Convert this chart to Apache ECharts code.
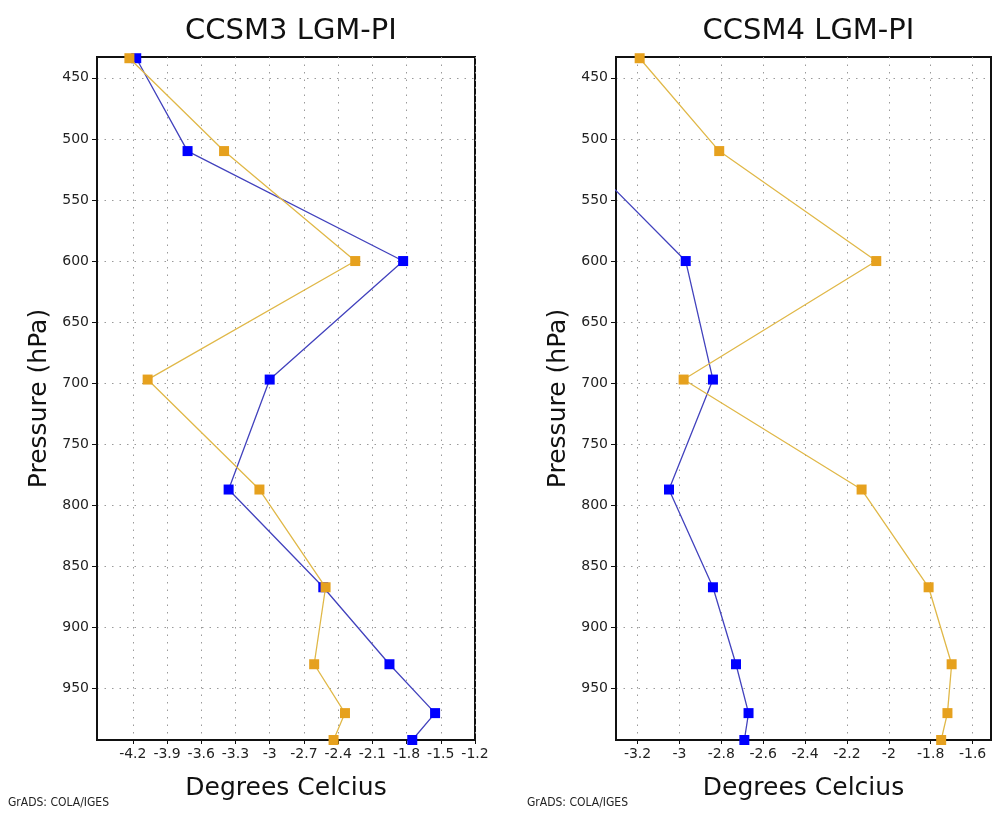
<!DOCTYPE html>
<html>
<head>
<meta charset="utf-8">
<script src="https://cdn.jsdelivr.net/npm/echarts@6/dist/echarts.min.js"></script>
<style>
  html, body { margin: 0; padding: 0; background: #fff; }
  #main { width: 996px; height: 824px; }
</style>
</head>
<body>
<div id="main"></div>
<script>
// pressure levels (hPa), top to bottom
var levels = [434, 510, 600, 697, 787, 867, 930, 970, 992];

// CCSM3 LGM-PI
var ccsm3Blue   = [-4.17, -3.72, -1.83, -3.00, -3.36, -2.53, -1.95, -1.55, -1.75];
var ccsm3Orange = [-4.23, -3.40, -2.25, -4.07, -3.09, -2.51, -2.61, -2.34, -2.44];

// CCSM4 LGM-PI (first two blue points fall off the left edge)
var ccsm4Blue   = [-3.62, -3.49, -2.97, -2.84, -3.05, -2.84, -2.73, -2.67, -2.69];
var ccsm4Orange = [-3.19, -2.81, -2.06, -2.98, -2.13, -1.81, -1.70, -1.72, -1.75];

// tick labels
var pressureTicks = [450, 500, 550, 600, 650, 700, 750, 800, 850, 900, 950];
var ccsm3Ticks = [-4.2, -3.9, -3.6, -3.3, -3, -2.7, -2.4, -2.1, -1.8, -1.5, -1.2];
var ccsm4Ticks = [-3.2, -3, -2.8, -2.6, -2.4, -2.2, -2, -1.8, -1.6];

var titles = ['CCSM3 LGM-PI', 'CCSM4 LGM-PI'];

function pairs(xs) {
    var out = [];
    for (var i = 0; i < xs.length; i++) {
        out.push([xs[i], levels[i]]);
    }
    return out;
}

var myChart = echarts.init(document.getElementById('main'));

var grids = [
    { left: 97, top: 57, width: 378, height: 683 },
    { left: 616, top: 57, width: 375, height: 683 }
];
var xRanges = [[-4.514, -1.2], [-3.303, -1.512]];
var xTicks = [ccsm3Ticks, ccsm4Ticks];

var dotted = { color: '#9a9a9a', width: 1, type: [1.5, 6] };
var labelFont = { fontFamily: 'DejaVu Sans', fontSize: 14, color: '#222' };
var nameFont = { fontFamily: 'DejaVu Sans', fontSize: 25, color: '#111' };

var option = {
    animation: false,
    backgroundColor: '#fff',
    title: [],
    grid: [],
    xAxis: [],
    yAxis: [],
    series: [],
    graphic: []
};

for (var g = 0; g < 2; g++) {
    option.title.push({
        text: titles[g],
        left: grids[g].left + grids[g].width / 2,
        textAlign: 'center',
        top: 12,
        textStyle: { fontFamily: 'DejaVu Sans', fontSize: 29, fontWeight: 'normal', color: '#111' }
    });
    option.grid.push({
        left: grids[g].left, top: grids[g].top, width: grids[g].width, height: grids[g].height,
        show: true, borderColor: '#111', borderWidth: 2, backgroundColor: '#fff'
    });
    option.xAxis.push({
        type: 'value',
        gridIndex: g,
        min: xRanges[g][0],
        max: xRanges[g][1],
        name: 'Degrees Celcius',
        nameLocation: 'middle',
        nameGap: 36,
        nameTextStyle: nameFont,
        axisLine: { show: true, onZero: false, lineStyle: { color: '#111', width: 2 } },
        axisTick: { show: true, length: 4, customValues: xTicks[g], lineStyle: { color: '#111' } },
        axisLabel: Object.assign({ margin: 7, customValues: xTicks[g] }, labelFont),
        splitLine: { show: true, customValues: xTicks[g], lineStyle: dotted }
    });
    option.yAxis.push({
        type: 'value',
        gridIndex: g,
        inverse: true,
        min: 433,
        max: 992,
        name: 'Pressure (hPa)',
        nameLocation: 'middle',
        nameGap: 45,
        nameTextStyle: nameFont,
        axisLine: { show: true, onZero: false, lineStyle: { color: '#111', width: 2 } },
        axisTick: { show: true, length: 5, customValues: pressureTicks, lineStyle: { color: '#111' } },
        axisLabel: Object.assign({ margin: 8, customValues: pressureTicks }, labelFont),
        splitLine: { show: true, customValues: pressureTicks, lineStyle: dotted }
    });
    option.graphic.push({
        type: 'text',
        left: g === 0 ? 8 : 527,
        top: 797,
        style: { text: 'GrADS: COLA/IGES', fontFamily: 'DejaVu Sans Condensed', fontSize: 12, fill: '#222' }
    });
}

function lineSeries(g, xs, lineColor, markColor, z) {
    return {
        type: 'line',
        xAxisIndex: g,
        yAxisIndex: g,
        data: pairs(xs),
        symbol: 'rect',
        symbolSize: 10,
        showAllSymbol: true,
        clip: true,
        z: z,
        lineStyle: { color: lineColor, width: 1.3 },
        itemStyle: { color: markColor, borderWidth: 0 }
    };
}

option.series.push(lineSeries(0, ccsm3Blue, '#4242bd', '#0000ff', 2));
option.series.push(lineSeries(0, ccsm3Orange, '#e0b848', '#e6a11e', 3));
option.series.push(lineSeries(1, ccsm4Blue, '#4242bd', '#0000ff', 2));
option.series.push(lineSeries(1, ccsm4Orange, '#e0b848', '#e6a11e', 3));

myChart.setOption(option);
</script>
</body>
</html>
